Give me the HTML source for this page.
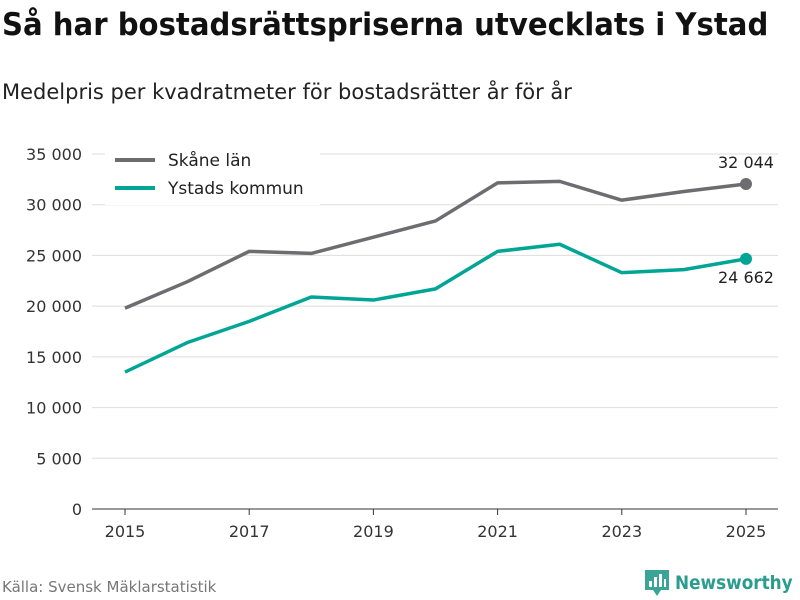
<!DOCTYPE html>
<html><head><meta charset="utf-8">
<style>
body{margin:0;width:800px;height:600px;background:#fff;font-family:"DejaVu Sans","Liberation Sans",sans-serif;overflow:hidden;position:relative}
h1{position:absolute;left:2px;top:6px;margin:0;font-size:31px;font-weight:bold;color:#111;white-space:nowrap;transform-origin:0 0;line-height:38px}
.sub{position:absolute;left:2px;top:80px;font-size:21px;color:#222;white-space:nowrap}
.src{position:absolute;left:2px;top:578px;font-size:15px;color:#777}
.logo{position:absolute;left:644px;top:569px;display:flex;align-items:center;gap:5px;color:#2a9d8f;font-weight:bold;font-size:19px}
</style></head><body>
<h1 id="title">Så har bostadsrättspriserna utvecklats i Ystad</h1>
<div class="sub">Medelpris per kvadratmeter för bostadsrätter år för år</div>
<svg id="chart" width="800" height="600" style="position:absolute;left:0;top:0"></svg>
<div class="src">Källa: Svensk Mäklarstatistik</div>
<div class="logo" id="logo">
<svg width="26" height="28" viewBox="0 0 26 28"><path d="M1 1h24v20h-8l-4 6-4-6H1z" fill="#3aa597"/><rect x="5" y="12" width="3" height="6" fill="#fff"/><rect x="10" y="8" width="3" height="10" fill="#fff"/><rect x="15" y="5" width="3" height="13" fill="#fff"/><rect x="20" y="10" width="2" height="8" fill="#fff"/></svg>
<span id="logotext">Newsworthy</span></div>
<script>
const years=[2015,2016,2017,2018,2019,2020,2021,2022,2023,2024,2025];
const skane=[19800,22400,25400,25200,26800,28400,32150,32300,30450,31300,32044];
const ystad=[13500,16400,18500,20900,20600,21700,25400,26100,23300,23600,24662];
const yTicks=[0,5000,10000,15000,20000,25000,30000,35000];
const xTicks=[2015,2017,2019,2021,2023,2025];
const NS="http://www.w3.org/2000/svg";
const svg=document.getElementById('chart');
const x=v=>125+(v-2015)*62.1;
const y=v=>509-v*(355/35000);
const fmt=v=>v.toLocaleString('en-US').replace(/,/g,' ');
function mk(t,a){const e=document.createElementNS(NS,t);for(const k in a)e.setAttribute(k,a[k]);svg.appendChild(e);return e;}
yTicks.forEach(t=>{
 const l=mk('line',{x1:92,x2:778,y1:y(t),y2:y(t),stroke:t===0?'#333':'#ddd','stroke-width':1});
 
 
 const tx=mk('text',{x:82,y:y(t)+6,'text-anchor':'end','font-size':16,fill:'#333'});tx.textContent=fmt(t);
 
 
});
xTicks.forEach(t=>{
 const l=mk('line',{x1:x(t),x2:x(t),y1:509,y2:515,stroke:'#333'});
 
 
 const tx=mk('text',{x:x(t),y:537,'text-anchor':'middle','font-size':16,fill:'#333'});tx.textContent=t;
 
 
});
function series(vals,color,name,labelDy){
 const p=mk('polyline',{points:vals.map((v,i)=>x(years[i])+','+y(v)).join(' '),fill:'none',stroke:color,'stroke-width':3.5,'stroke-linejoin':'round'});
 
 
 const last=vals.length-1;
 const c=mk('circle',{cx:x(years[last]),cy:y(vals[last]),r:6,fill:color});
 
 
 const t=mk('text',{x:x(years[last]),y:y(vals[last])+labelDy,'text-anchor':'middle','font-size':16,fill:'#222'});t.textContent=fmt(vals[last]);
 
 
}
series(skane,'#6d6c71','skane',-16);
series(ystad,'#00a596','ystad',24);
const bg=mk('rect',{x:105,y:145,width:215,height:60,fill:'#fff'});


[['Skåne län','#6d6c71',160],['Ystads kommun','#00a596',188]].forEach(([n,c,yy])=>{
 const l=mk('line',{x1:115,x2:155,y1:yy,y2:yy,stroke:c,'stroke-width':4});
 
 
 const t=mk('text',{x:168,y:yy+6,'font-size':17,fill:'#222'});t.textContent=n;
 
 
});
const h=document.getElementById('title');
h.style.transform='scaleX('+(766/h.scrollWidth)+')';
const lt=document.getElementById('logotext');
const lw=lt.offsetWidth;
if(lw>120){lt.style.display='inline-block';lt.style.transformOrigin='0 50%';lt.style.transform='scaleX('+(118/lw)+')';}
</script>
</body></html>
